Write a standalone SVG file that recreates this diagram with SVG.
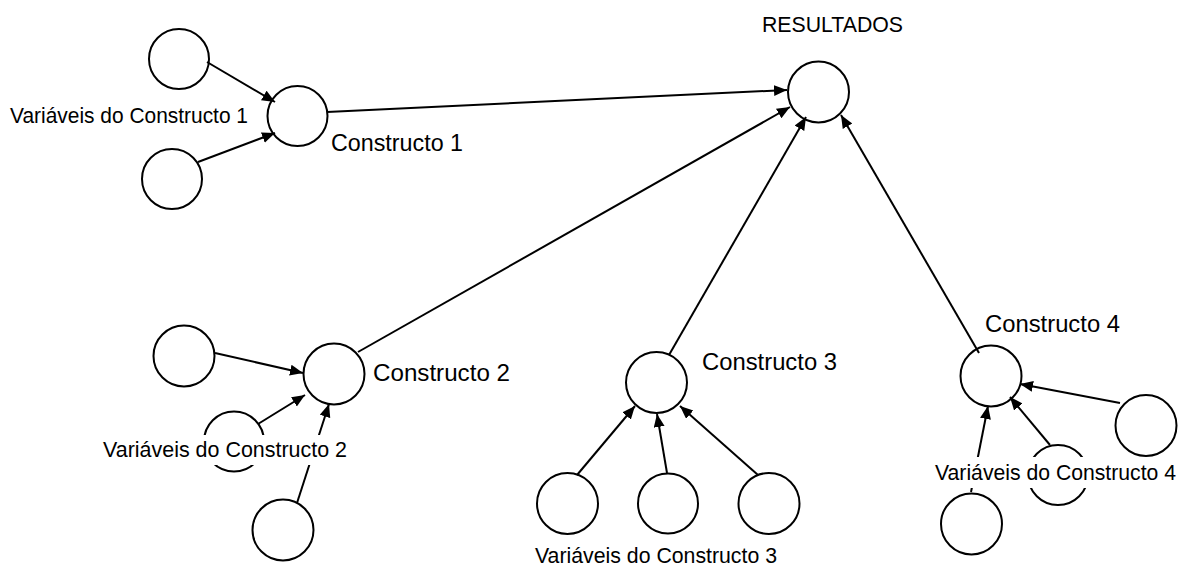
<svg xmlns="http://www.w3.org/2000/svg" width="1186" height="570" viewBox="0 0 1186 570">
<style>
.n{fill:#fff;stroke:#000;stroke-width:2}
.e{stroke:#000;stroke-width:2;fill:none}
.t{font-family:"Liberation Sans",Arial,sans-serif;fill:#000}
.v{font-size:22.5px}
.c{font-size:24.5px}
.bg{fill:#fff}
</style>
<defs>
<marker id="ah" markerUnits="userSpaceOnUse" markerWidth="14" markerHeight="12" refX="13" refY="5.5" orient="auto">
<path d="M0,0 L13,5.5 L0,11 z" fill="#000"/>
</marker>
</defs>
<rect width="1186" height="570" fill="#fff"/>
<g id="nodes">
<g id="resultados"><circle class="n" cx="818.5" cy="92" r="30.5"/><text class="t v" x="762" y="32" textLength="141" lengthAdjust="spacingAndGlyphs">RESULTADOS</text></g>
<g id="c1"><circle class="n" cx="297.5" cy="116" r="30"/><text class="t c" x="331" y="151" textLength="132" lengthAdjust="spacingAndGlyphs">Constructo 1</text></g>
<g id="v1a"><circle class="n" cx="179" cy="59" r="30"/></g>
<g id="v1b"><circle class="n" cx="172" cy="179" r="30"/></g>
<g id="c2"><circle class="n" cx="334" cy="374" r="30.5"/><text class="t c" x="373" y="381" textLength="137" lengthAdjust="spacingAndGlyphs">Constructo 2</text></g>
<g id="v2a"><circle class="n" cx="184" cy="356" r="30.5"/></g>
<g id="v2b"><circle class="n" cx="234" cy="441.5" r="30"/></g>
<g id="v2c"><circle class="n" cx="283" cy="530" r="30.5"/></g>
<g id="c3"><circle class="n" cx="656.5" cy="382.5" r="30.5"/><text class="t c" x="702" y="370" textLength="135" lengthAdjust="spacingAndGlyphs">Constructo 3</text></g>
<g id="v3a"><circle class="n" cx="567.5" cy="503.5" r="30.5"/></g>
<g id="v3b"><circle class="n" cx="668" cy="503.5" r="30"/></g>
<g id="v3c"><circle class="n" cx="769" cy="503.5" r="30.5"/></g>
<g id="c4"><circle class="n" cx="991" cy="376" r="30.5"/><text class="t c" x="985" y="332" textLength="135" lengthAdjust="spacingAndGlyphs">Constructo 4</text></g>
<g id="v4a"><circle class="n" cx="1146" cy="425.5" r="30.5"/></g>
<g id="v4b"><circle class="n" cx="1058" cy="475" r="30"/></g>
<g id="v4c"><circle class="n" cx="971.5" cy="524" r="30.5"/></g>
</g>
<g id="connectors" class="e" marker-end="url(#ah)">
<line x1="327" y1="112" x2="787" y2="90"/>
<line x1="358" y1="352" x2="790" y2="107"/>
<line x1="669" y1="355" x2="806" y2="117"/>
<line x1="979" y1="353" x2="841" y2="115"/>
<line x1="207" y1="62" x2="275" y2="102"/>
<line x1="198" y1="162" x2="275" y2="133"/>
<line x1="215" y1="353" x2="303" y2="373"/>
<line x1="258" y1="424" x2="305" y2="395"/>
<line x1="297" y1="503" x2="329" y2="404"/>
<line x1="577" y1="475" x2="635" y2="406"/>
<line x1="667" y1="473" x2="657" y2="414"/>
<line x1="758" y1="475" x2="680" y2="406"/>
<line x1="1120" y1="403" x2="1020" y2="384"/>
<line x1="1050" y1="445" x2="1010" y2="397"/>
<line x1="971" y1="492" x2="988" y2="406"/>
</g>
<g id="label-v1"><rect class="bg" x="8" y="101" width="242" height="30"/><text class="t v" x="10" y="123" textLength="238" lengthAdjust="spacingAndGlyphs">Variáveis do Constructo 1</text></g>
<g id="label-v2"><rect class="bg" x="101" y="435" width="248" height="30"/><text class="t v" x="103" y="457" textLength="244" lengthAdjust="spacingAndGlyphs">Variáveis do Constructo 2</text></g>
<g id="label-v3"><text class="t v" x="535" y="563" textLength="242" lengthAdjust="spacingAndGlyphs">Variáveis do Constructo 3</text></g>
<g id="label-v4"><rect class="bg" x="933" y="457" width="246" height="31"/><text class="t v" x="935" y="480" textLength="241" lengthAdjust="spacingAndGlyphs">Variáveis do Constructo 4</text></g>
</svg>
